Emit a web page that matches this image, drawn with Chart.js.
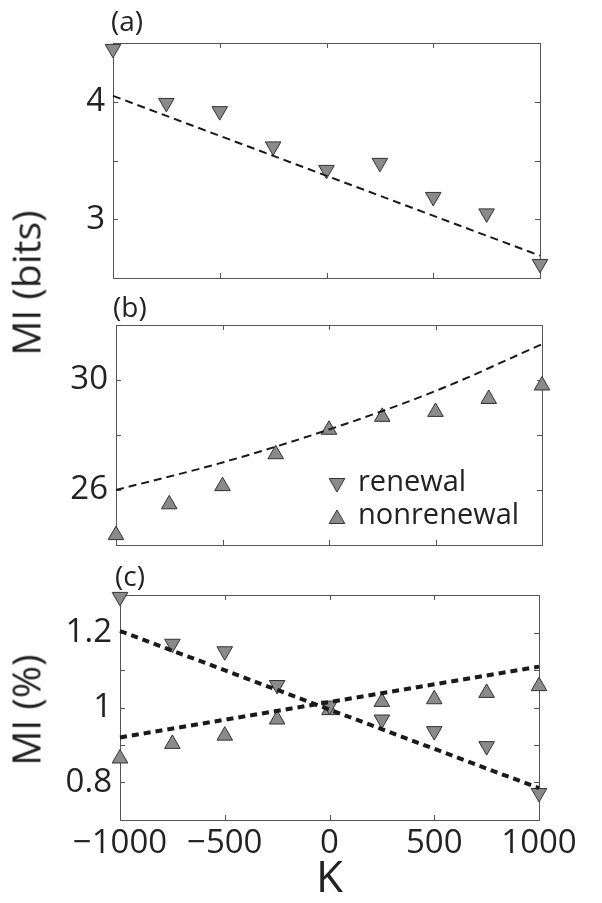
<!DOCTYPE html>
<html>
<head>
<meta charset="utf-8">
<script src="https://cdn.jsdelivr.net/npm/chart.js@4.4.1/dist/chart.umd.min.js"></script>
<style>
  html, body { margin: 0; padding: 0; background: #fff; }
  body { width: 602px; height: 903px; position: relative; overflow: hidden; font-family: "Open Sans", sans-serif; color: #222; }
  canvas { position: absolute; left: 0; }
  .lbl { position: absolute; font-size: 28px; line-height: 28px; }
  .ytitle { position: absolute; font-size: 39px; line-height: 39px; white-space: nowrap; transform: translate(-50%, -50%) rotate(-90deg); }
</style>
</head>
<body>
<canvas id="chartA" width="602" height="290" style="top:0px"></canvas>
<canvas id="chartB" width="602" height="265" style="top:290px"></canvas>
<canvas id="chartC" width="602" height="348" style="top:555px"></canvas>
<div class="lbl" style="left:111px; top:6px">(a)</div>
<div class="lbl" style="left:113px; top:292px">(b)</div>
<div class="lbl" style="left:115px; top:561px">(c)</div>
<div class="ytitle" style="left:25px; top:283px">MI (bits)</div>
<div class="ytitle" style="left:25px; top:710px">MI (%)</div>
<script>
// K values shared by all panels
const kValues = [-1000, -750, -500, -250, 0, 250, 500, 750, 1000];

// (a) renewal, bits
const renewalBits = [4.45, 3.99, 3.92, 3.62, 3.42, 3.48, 3.19, 3.05, 2.62];
const fitBitsK = [-1000, 1000];
const fitBits = [4.05, 2.69];

// (b) nonrenewal, bits
const nonrenewalBits = [24.36, 25.48, 26.14, 27.3, 28.19, 28.66, 28.84, 29.31, 29.8];
const fitNonBitsK = [-1000, -500, 0, 500, 1000];
const fitNonBits = [26.0, 27.0, 28.2, 29.6, 31.3];

// (c) relative MI
const renewalPct = [1.295, 1.17, 1.15, 1.06, 1.005, 0.968, 0.937, 0.897, 0.772];
const nonrenewalPct = [0.864, 0.903, 0.925, 0.968, 0.993, 1.015, 1.022, 1.039, 1.057];
const fitPctK = [-1000, 1000];
const fitRenewalPct = [1.204, 0.785];
const fitNonrenewalPct = [0.92, 1.109];

// ticks and tick labels ("" = tick mark only)
const xTickValues = [-1000, -500, 0, 500, 1000];
const xTickLabels = ["\u22121000", "\u2212500", "0", "500", "1000"];
const yTicksA = [2.5, 3, 3.5, 4, 4.5];
const yTickTxtA = ["", "3", "", "4", ""];
const yTicksB = [24, 26, 28, 30, 32];
const yTickTxtB = ["", "26", "", "30", ""];
const yTicksC = [0.7, 0.8, 0.9, 1, 1.1, 1.2, 1.3];
const yTickTxtC = ["", "0.8", "", "1", "", "1.2", ""];

const FONT = "'Open Sans', sans-serif";
const MARK_FILL = "#8a8a8a";
const MARK_EDGE = "#333";

function pts(xs, ys) {
  return xs.map((x, i) => ({ x, y: ys[i] }));
}

function markers(label, data, down) {
  return {
    label,
    data,
    showLine: false,
    pointStyle: "triangle",
    rotation: down ? 180 : 0,
    pointRadius: 9,
    pointHoverRadius: 9,
    pointBackgroundColor: MARK_FILL,
    pointBorderColor: MARK_EDGE,
    pointBorderWidth: 1,
    clip: false
  };
}

function fitLine(data, width, dash, curved) {
  return {
    data,
    showLine: true,
    borderColor: "#1a1a1a",
    borderWidth: width,
    borderDash: dash,
    pointRadius: 0,
    fill: false,
    cubicInterpolationMode: curved ? "monotone" : "default",
    clip: false
  };
}

// box round the plot with inward ticks on all four sides
const boxTicks = {
  id: "boxTicks",
  beforeDatasetsDraw(chart) {
    const { ctx, chartArea: a, scales: { x, y } } = chart;
    const len = 5;
    ctx.save();
    ctx.strokeStyle = "#555";
    ctx.lineWidth = 1;
    ctx.strokeRect(Math.round(a.left) + 0.5, Math.round(a.top) + 0.5,
      Math.round(a.right - a.left), Math.round(a.bottom - a.top));
    ctx.beginPath();
    x.ticks.forEach(t => {
      const px = Math.round(x.getPixelForValue(t.value)) + 0.5;
      ctx.moveTo(px, a.bottom); ctx.lineTo(px, a.bottom - len);
      ctx.moveTo(px, a.top); ctx.lineTo(px, a.top + len);
    });
    y.ticks.forEach(t => {
      const py = Math.round(y.getPixelForValue(t.value)) + 0.5;
      ctx.moveTo(a.left, py); ctx.lineTo(a.left + len, py);
      ctx.moveTo(a.right, py); ctx.lineTo(a.right - len, py);
    });
    ctx.stroke();
    ctx.restore();
  }
};

function triangle(ctx, cx, cy, r, down) {
  const s = down ? -1 : 1;
  ctx.beginPath();
  ctx.moveTo(cx, cy - s * r);
  ctx.lineTo(cx + r * 0.866, cy + s * r / 2);
  ctx.lineTo(cx - r * 0.866, cy + s * r / 2);
  ctx.closePath();
  ctx.fillStyle = MARK_FILL;
  ctx.fill();
  ctx.strokeStyle = MARK_EDGE;
  ctx.lineWidth = 1;
  ctx.stroke();
}

// legend inside panel (b)
const innerLegend = {
  id: "innerLegend",
  afterDraw(chart) {
    if (chart.canvas.id !== "chartB") return;
    const ctx = chart.ctx;
    ctx.save();
    triangle(ctx, 337, 193, 9, true);
    triangle(ctx, 337, 229, 9, false);
    ctx.fillStyle = "#222";
    ctx.font = "29px " + FONT;
    ctx.textBaseline = "middle";
    ctx.fillText("renewal", 358, 193);
    ctx.fillText("nonrenewal", 358, 226);
    ctx.restore();
  }
};

function makePanel(id, datasets, opt) {
  return new Chart(document.getElementById(id), {
    type: "scatter",
    data: { datasets },
    plugins: [boxTicks, innerLegend],
    options: {
      responsive: false,
      animation: false,
      events: [],
      layout: { padding: { top: opt.top, right: opt.right, left: 0, bottom: 0 } },
      plugins: { legend: { display: false }, tooltip: { enabled: false } },
      scales: {
        x: {
          type: "linear",
          min: -1000,
          max: 1000,
          afterBuildTicks: s => { s.ticks = xTickValues.map(v => ({ value: v })); },
          afterFit: s => {
            s.height = opt.xHeight;
            s.paddingLeft = 0; s.paddingRight = 0;
          },
          grid: { display: false, drawTicks: false },
          border: { display: false },
          ticks: {
            display: opt.showX,
            autoSkip: false,
            padding: 4,
            color: "#222",
            font: { family: FONT, size: 33 },
            maxRotation: 0,
            callback: v => xTickLabels[xTickValues.indexOf(v)]
          },
          title: {
            display: opt.showX,
            text: "K",
            color: "#222",
            font: { family: FONT, size: 44, lineHeight: 1 },
            padding: { top: 0, bottom: 2 }
          }
        },
        y: {
          type: "linear",
          min: opt.yMin,
          max: opt.yMax,
          afterBuildTicks: s => { s.ticks = opt.yTicks.map(v => ({ value: v })); },
          afterFit: s => {
            s.width = opt.left;
            s.paddingTop = 0; s.paddingBottom = 0;
          },
          ticks: {
            autoSkip: false,
            padding: 8,
            color: "#222",
            font: { family: FONT, size: 33 },
            callback: (v, i) => opt.yTxt[i]
          },
          grid: { display: false, drawTicks: false },
          border: { display: false }
        }
      }
    }
  });
}

makePanel("chartA", [
  fitLine(pts(fitBitsK, fitBits), 2, [8, 5], false),
  markers("renewal", pts(kValues, renewalBits), true)
], { top: 43, right: 62, left: 113, xHeight: 12, showX: false,
     yMin: 2.5, yMax: 4.5, yTicks: yTicksA, yTxt: yTickTxtA });

makePanel("chartB", [
  fitLine(pts(fitNonBitsK, fitNonBits), 2, [8, 5], true),
  markers("nonrenewal", pts(kValues, nonrenewalBits), false)
], { top: 35, right: 60, left: 116, xHeight: 10, showX: false,
     yMin: 24, yMax: 32, yTicks: yTicksB, yTxt: yTickTxtB });

makePanel("chartC", [
  fitLine(pts(fitPctK, fitRenewalPct), 4, [7, 5], false),
  fitLine(pts(fitPctK, fitNonrenewalPct), 4, [7, 5], false),
  markers("renewal", pts(kValues, renewalPct), true),
  markers("nonrenewal", pts(kValues, nonrenewalPct), false)
], { top: 40, right: 63, left: 120, xHeight: 83, showX: true,
     yMin: 0.7, yMax: 1.3, yTicks: yTicksC, yTxt: yTickTxtC });
</script>
</body>
</html>
